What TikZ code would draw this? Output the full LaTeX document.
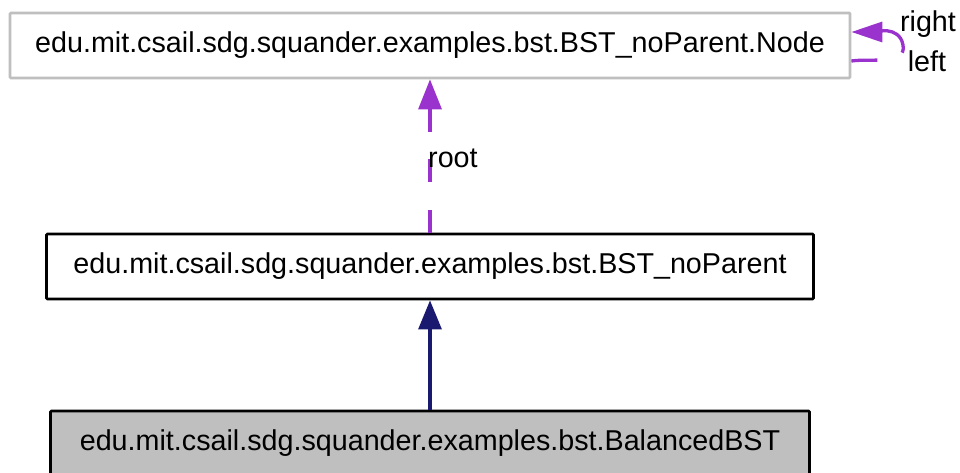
\documentclass[tikz,border=0pt]{standalone}
\usepackage{fontspec}
\setmainfont{Liberation Sans}
\usepackage{tikz}
\usetikzlibrary{arrows.meta}

\definecolor{edgepurple}{HTML}{9A32CD}
\definecolor{edgenavy}{HTML}{191970}
\definecolor{boxgrey}{HTML}{BFBFBF}

\begin{document}
\begin{tikzpicture}
[x=1pt,y=1pt,
 classbox/.style={draw=black,line width=2.8pt,rounded corners=1pt,minimum height=65pt,inner sep=0pt,font=\fontsize{28.7}{34}\selectfont},
 lbl/.style={font=\fontsize{28.7}{34}\selectfont,inner sep=0pt},
 usage/.style={edgepurple,line width=3.3pt,-{Triangle[length=30pt,width=23pt]}},
 inherit/.style={edgenavy,line width=3.1pt,-{Triangle[length=29pt,width=23pt]}}]

\useasboundingbox (0,0) rectangle (960,473);

\node[classbox,draw=boxgrey,minimum width=840pt] (N) at (430,427.5) {edu.mit.csail.sdg.squander.examples.bst.BST\_noParent.Node};

\node[classbox,minimum width=767pt] (P) at (430,206.5) {edu.mit.csail.sdg.squander.examples.bst.BST\_noParent};

\node[classbox,fill=boxgrey,minimum width=759pt] (B) at (430,29.5) {edu.mit.csail.sdg.squander.examples.bst.BalancedBST};

\draw[inherit] (B.north) -- (P.south);
\draw[usage,dash pattern=on 23pt off 27.5pt] (P.north) -- (N.south);

\node[lbl,anchor=base west] (root) at (428,305) {root};

\coordinate (s) at ([yshift=-15.5pt]N.east);
\coordinate (t) at ([yshift=13.5pt]N.east);
\coordinate (m) at (903,428);

\draw[usage,-{Triangle[length=31pt,width=20pt]},dash pattern=on 26pt off 27pt on 400pt] (s) to[out=8,in=-80] (m) to[out=100,in=0] (t);

\node[lbl,anchor=base] (right) at (928,441) {right};
\node[lbl,anchor=base] (left) at (927,401) {left};
\end{tikzpicture}
\end{document}
